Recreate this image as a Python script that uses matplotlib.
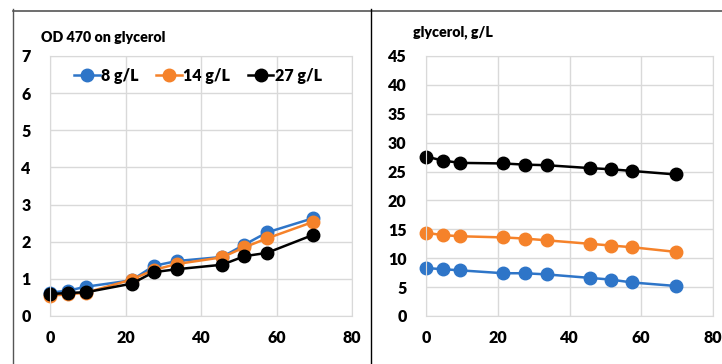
import matplotlib.pyplot as plt
from matplotlib.lines import Line2D

plt.rcParams['font.family'] = ['Lato', 'DejaVu Sans']
plt.rcParams['font.weight'] = 'bold'

# sampling times, h
time = [0, 4.7, 9.6, 21.6, 27.5, 33.6, 45.6, 51.5, 57.5, 69.6]

labels = ['8 g/L', '14 g/L', '27 g/L']
colors = ['#2e75c8', '#f5822a', '#000000']

# OD 470
od_8 = [0.63, 0.68, 0.79, 0.96, 1.35, 1.48, 1.59, 1.92, 2.25, 2.63]
od_14 = [0.55, 0.58, 0.63, 0.98, 1.24, 1.40, 1.58, 1.85, 2.09, 2.53]
od_27 = [0.59, 0.62, 0.64, 0.87, 1.18, 1.26, 1.38, 1.61, 1.70, 2.18]

# glycerol, g/L
gly_8 = [8.3, 8.1, 7.9, 7.4, 7.4, 7.2, 6.6, 6.3, 5.8, 5.2]
gly_14 = [14.4, 14.0, 13.8, 13.6, 13.4, 13.1, 12.5, 12.2, 11.9, 11.1]
gly_27 = [27.6, 26.9, 26.5, 26.4, 26.2, 26.1, 25.6, 25.4, 25.1, 24.5]

fig = plt.figure(figsize=(7.22, 3.64), dpi=100)

# frame lines like in the source document
fig.add_artist(Line2D([13/722, 1], [1-11/364, 1-11/364], color='#555555', lw=1.2))
fig.add_artist(Line2D([13/722, 13/722], [0, 1-9/364], color='#555555', lw=1.0))
fig.add_artist(Line2D([371/722, 371/722], [0, 1-9/364], color='black', lw=1.0))

ax1 = fig.add_axes([50/722, 48/364, 302/722, 260/364])
ax2 = fig.add_axes([426/722, 48/364, 287/722, 260/364])

def style(ax, ymax, ystep):
    ax.set_xlim(0, 80)
    ax.set_ylim(0, ymax)
    ax.set_xticks(range(0, 81, 20))
    ax.set_yticks(range(0, ymax + 1, ystep))
    ax.grid(True, color='#d9d9d9', lw=1)
    ax.set_axisbelow(True)
    for s in ax.spines.values():
        s.set_color('#d9d9d9')
    ax.tick_params(length=0, labelsize=11.5, pad=10)
    for t in ax.get_xticklabels() + ax.get_yticklabels():
        t.set_fontweight('heavy')

for y, c, l in zip([od_8, od_14, od_27], colors, labels):
    ax1.plot(time, y, '-o', color=c, ms=9, lw=1.8, label=l, clip_on=False)
style(ax1, 7, 1)
ax1.tick_params(axis='y', pad=14)
ax1.legend(loc='upper center', bbox_to_anchor=(0.49, 1.01), ncol=3, frameon=False,
           handlelength=1.6, handletextpad=0.1, columnspacing=1.1,
           prop={'weight': 'heavy', 'size': 11.5})
fig.text(41/722, 1-37/364, 'OD 470 on glycerol', fontsize=10.3, fontweight='heavy', va='center')

for y, c in zip([gly_8, gly_14, gly_27], colors):
    ax2.plot(time, y, '-o', color=c, ms=9, lw=1.8, clip_on=False)
style(ax2, 45, 5)
ax2.tick_params(axis='y', pad=14)
fig.text(413/722, 1-32/364, 'glycerol, g/L', fontsize=10.3, fontweight='heavy', va='center')

fig.savefig('out.png', dpi=100)
